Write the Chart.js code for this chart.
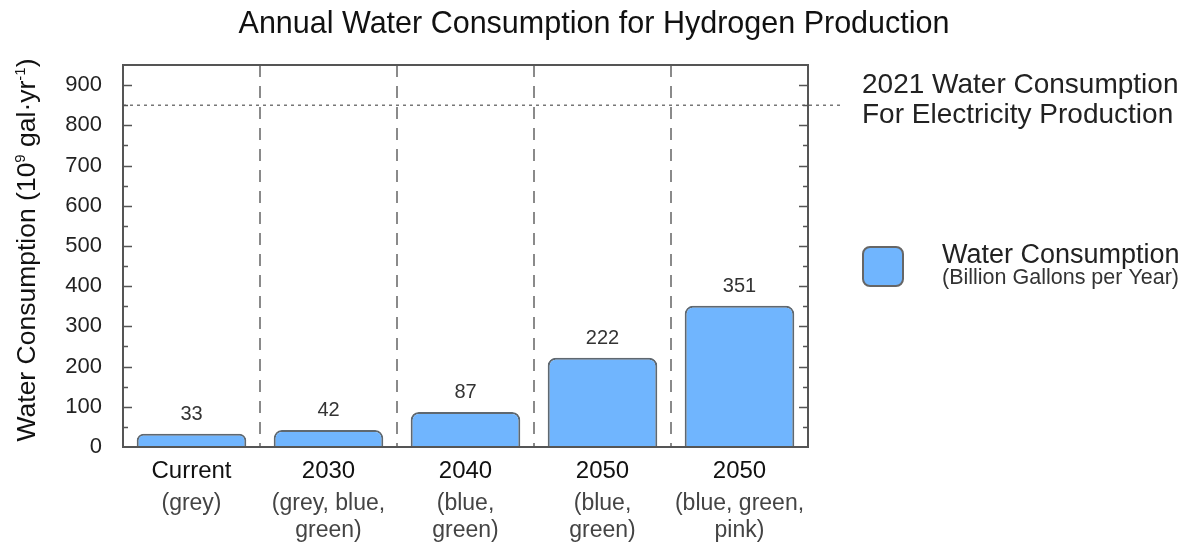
<!DOCTYPE html>
<html>
<head>
<meta charset="utf-8">
<script src="https://cdn.jsdelivr.net/npm/chart.js@4.4.1/dist/chart.umd.min.js"></script>
<style>
  html, body { margin: 0; padding: 0; background: #fff; }
  #wrap { width: 1195px; height: 542px; }
</style>
</head>
<body>
<div id="wrap"><canvas id="chart" width="1195" height="542"></canvas></div>
<script>
const categories = ["Current", "2030", "2040", "2050", "2050"];
const scenarios = [
  ["(grey)"],
  ["(grey, blue,", "green)"],
  ["(blue,", "green)"],
  ["(blue,", "green)"],
  ["(blue, green,", "pink)"]
];
const waterUse = [33, 42, 87, 222, 351];
const electricity2021 = 850;
const yMax = 950;

const FONT = "'Liberation Sans', Arial, Helvetica, sans-serif";
const BLUE = "#70b5fe";
const EDGE = "#5f6870";

// everything drawn around the library's bars
const decorations = {
  id: "decorations",
  beforeDatasetsDraw(chart) {
    const { ctx, chartArea: a, scales: { x, y } } = chart;
    ctx.save();
    // dashed separators between categories
    ctx.strokeStyle = "#8a8a8a";
    ctx.lineWidth = 2;
    ctx.setLineDash([12, 9]);
    for (let i = 0; i < categories.length - 1; i++) {
      const sx = (x.getPixelForValue(i) + x.getPixelForValue(i + 1)) / 2;
      ctx.beginPath();
      ctx.moveTo(sx, a.top);
      ctx.lineTo(sx, a.bottom);
      ctx.stroke();
    }
    // 2021 electricity reference line
    const ry = y.getPixelForValue(electricity2021);
    ctx.strokeStyle = "#777";
    ctx.lineWidth = 1.5;
    ctx.setLineDash([3, 4]);
    ctx.beginPath();
    ctx.moveTo(a.left, ry);
    ctx.lineTo(a.right + 34, ry);
    ctx.stroke();
    ctx.restore();
  },
  afterDraw(chart) {
    const { ctx, chartArea: a, scales: { x, y } } = chart;
    ctx.save();
    ctx.setLineDash([]);

    // frame
    ctx.strokeStyle = "#555";
    ctx.lineWidth = 2;
    ctx.strokeRect(a.left, a.top, a.right - a.left, a.bottom - a.top);

    // inward ticks on both sides
    ctx.lineWidth = 1.5;
    for (let v = 50; v < yMax; v += 50) {
      const py = Math.round(y.getPixelForValue(v)) + 0.5;
      const len = v % 100 === 0 ? 9 : 5;
      ctx.beginPath();
      ctx.moveTo(a.left, py); ctx.lineTo(a.left + len, py);
      ctx.moveTo(a.right, py); ctx.lineTo(a.right - len, py);
      ctx.stroke();
    }

    // value labels
    ctx.fillStyle = "#333";
    ctx.font = "20px " + FONT;
    ctx.textAlign = "center";
    ctx.textBaseline = "alphabetic";
    const meta = chart.getDatasetMeta(0);
    meta.data.forEach((bar, i) => {
      ctx.fillText(String(waterUse[i]), bar.x, bar.y - 14);
    });

    // category labels
    categories.forEach((c, i) => {
      const cx = x.getPixelForValue(i);
      ctx.fillStyle = "#111";
      ctx.font = "24px " + FONT;
      ctx.fillText(c, cx, a.bottom + 31);
      ctx.fillStyle = "#444";
      ctx.font = "23px " + FONT;
      scenarios[i].forEach((s, j) => {
        ctx.fillText(s, cx, a.bottom + 63 + j * 27);
      });
    });

    // title
    ctx.fillStyle = "#111";
    ctx.font = "30.5px " + FONT;
    ctx.fillText("Annual Water Consumption for Hydrogen Production", 594, 33);

    // reference annotation
    ctx.textAlign = "left";
    ctx.fillStyle = "#222";
    ctx.font = "28px " + FONT;
    ctx.fillText("2021 Water Consumption", a.right + 54, 93);
    ctx.fillText("For Electricity Production", a.right + 54, 123);

    // legend
    const lx = a.right + 55, ly = 247;
    ctx.fillStyle = BLUE;
    ctx.strokeStyle = "#666";
    ctx.lineWidth = 2;
    ctx.beginPath();
    ctx.roundRect(lx, ly, 40, 39, 7);
    ctx.fill();
    ctx.stroke();
    ctx.fillStyle = "#222";
    ctx.font = "27px " + FONT;
    ctx.fillText("Water Consumption", a.right + 134, 263);
    ctx.fillStyle = "#333";
    ctx.font = "21.5px " + FONT;
    ctx.fillText("(Billion Gallons per Year)", a.right + 134, 284);

    // y axis title with superscripts
    const parts = [
      ["Water Consumption (10", 26.5, 0],
      ["9", 15, 10],
      [" gal\u00b7yr", 26.5, 0],
      ["-1", 15, 10],
      [")", 26.5, 0]
    ];
    let total = 0;
    parts.forEach(p => { ctx.font = p[1] + "px " + FONT; total += ctx.measureText(p[0]).width; });
    ctx.translate(35, 250);
    ctx.rotate(-Math.PI / 2);
    ctx.fillStyle = "#111";
    let tx = -total / 2;
    parts.forEach(p => {
      ctx.font = p[1] + "px " + FONT;
      ctx.fillText(p[0], tx, -p[2]);
      tx += ctx.measureText(p[0]).width;
    });
    ctx.restore();
  }
};

new Chart(document.getElementById("chart"), {
  type: "bar",
  data: {
    labels: categories,
    datasets: [{
      label: "Water Consumption",
      data: waterUse,
      backgroundColor: BLUE,
      borderColor: EDGE,
      borderWidth: 2,
      borderRadius: 8,
      borderSkipped: "bottom",
      barPercentage: 0.8,
      categoryPercentage: 1.0
    }]
  },
  options: {
    responsive: false,
    animation: false,
    layout: { padding: { top: 65, right: 387, bottom: 0, left: 0 } },
    plugins: {
      legend: { display: false },
      title: { display: false },
      tooltip: { enabled: false }
    },
    scales: {
      x: {
        grid: { display: false },
        border: { display: false },
        ticks: { display: false },
        afterFit(scale) { scale.height = 95; }
      },
      y: {
        min: 0,
        max: yMax,
        grid: { display: false },
        border: { display: false },
        ticks: {
          stepSize: 100,
          includeBounds: false,
          padding: 13,
          color: "#222",
          font: { family: FONT, size: 22 }
        },
        afterFit(scale) { scale.width = 123; }
      }
    }
  },
  plugins: [decorations]
});
</script>
</body>
</html>
